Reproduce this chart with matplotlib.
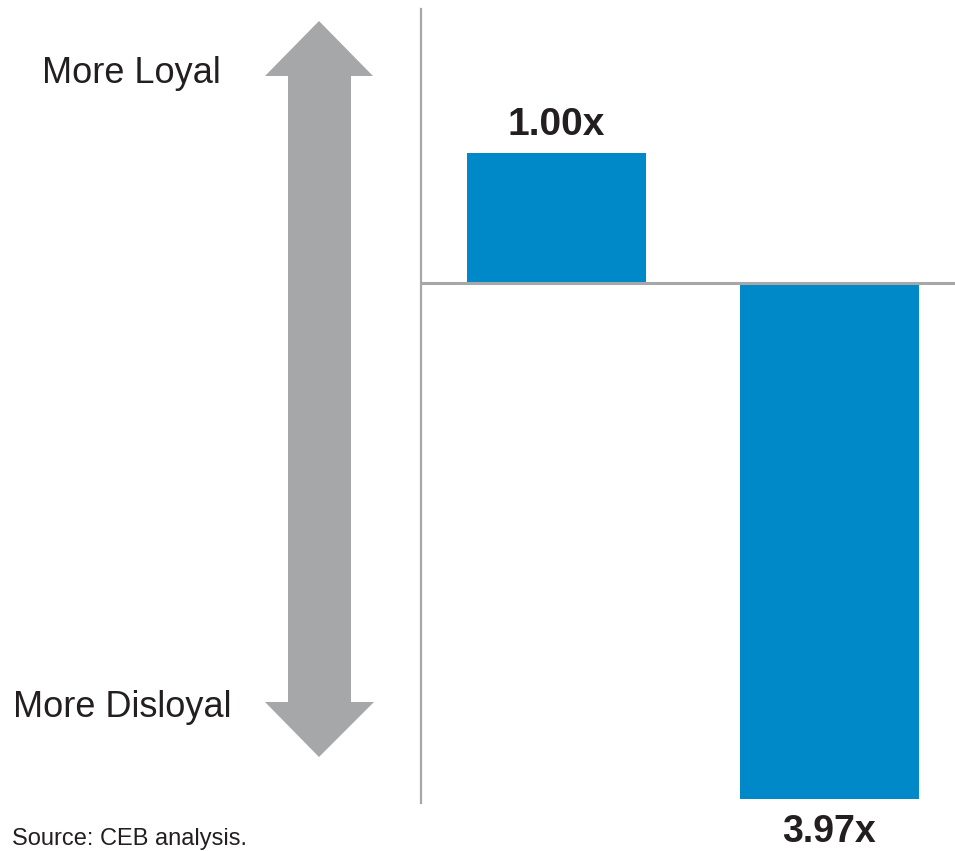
import matplotlib
matplotlib.use("Agg")
import matplotlib.pyplot as plt
from matplotlib.patches import Polygon

plt.rcParams['font.family'] = ['Liberation Sans', 'DejaVu Sans']

# loyalty multiplier, disloyal side plotted below the line
groups = ['Loyal', 'Disloyal']
multipliers = [1.00, -3.97]
value_labels = ['1.00x', '3.97x']

BLUE = '#0089c8'
GREY = '#a6a7a9'
INK = '#231f20'

W, H = 955, 851
fig = plt.figure(figsize=(W / 100, H / 100), dpi=100)

def fx(px):
    return px / W

def fy(py):
    return 1 - py / H

# chart area: vertical axis at x=421, zero line at y=283
px_per_unit = 130.0
ax_left, ax_right, ax_top, ax_bot = 421, 955, 9, 803
ax = fig.add_axes([fx(ax_left), fy(ax_bot), fx(ax_right - ax_left), (ax_bot - ax_top) / H])
ax.set_ylim(-(ax_bot - 283) / px_per_unit, (283 - ax_top) / px_per_unit)

step = 272.5
ax.set_xlim(-135.5 / step, (ax_right - ax_left - 135.5) / step)

pos = list(range(len(groups)))
bars = ax.bar(pos, multipliers, width=179 / step, color=BLUE, zorder=2)

for b, v, lab in zip(bars, multipliers, value_labels):
    cx = b.get_x() + b.get_width() / 2
    if v >= 0:
        ax.annotate(lab, (cx, v), xytext=(0, 7), textcoords='offset points',
                    ha='center', va='bottom', fontsize=28, fontweight='bold',
                    color=INK, annotation_clip=False)
    else:
        ax.annotate(lab, (cx, v), xytext=(0, -11), textcoords='offset points',
                    ha='center', va='top', fontsize=27, fontweight='bold',
                    color=INK, annotation_clip=False)

ax.axhline(0, color=GREY, lw=2.2, zorder=3)
for s in ['top', 'right', 'bottom']:
    ax.spines[s].set_visible(False)
ax.spines['left'].set_color(GREY)
ax.spines['left'].set_linewidth(1.6)
ax.set_xticks([])
ax.set_yticks([])
ax.patch.set_alpha(0)

# double-headed arrow on the left
arrow = [(319, 21), (373, 76), (351, 76), (351, 702), (374, 702), (319, 757),
         (265, 702), (288, 702), (288, 76), (265, 76)]
fig.patches.append(Polygon([(fx(x), fy(y)) for x, y in arrow], closed=True,
                           transform=fig.transFigure, facecolor=GREY,
                           edgecolor='none'))

fig.text(fx(131), fy(83), 'More Loyal', ha='center', va='baseline',
         fontsize=26, color=INK)
fig.text(fx(122), fy(717), 'More Disloyal', ha='center', va='baseline',
         fontsize=26, color=INK)
fig.text(fx(12), fy(845), 'Source: CEB analysis.', ha='left', va='baseline',
         fontsize=17, color=INK)

fig.savefig('out.png', dpi=100, facecolor='white')
